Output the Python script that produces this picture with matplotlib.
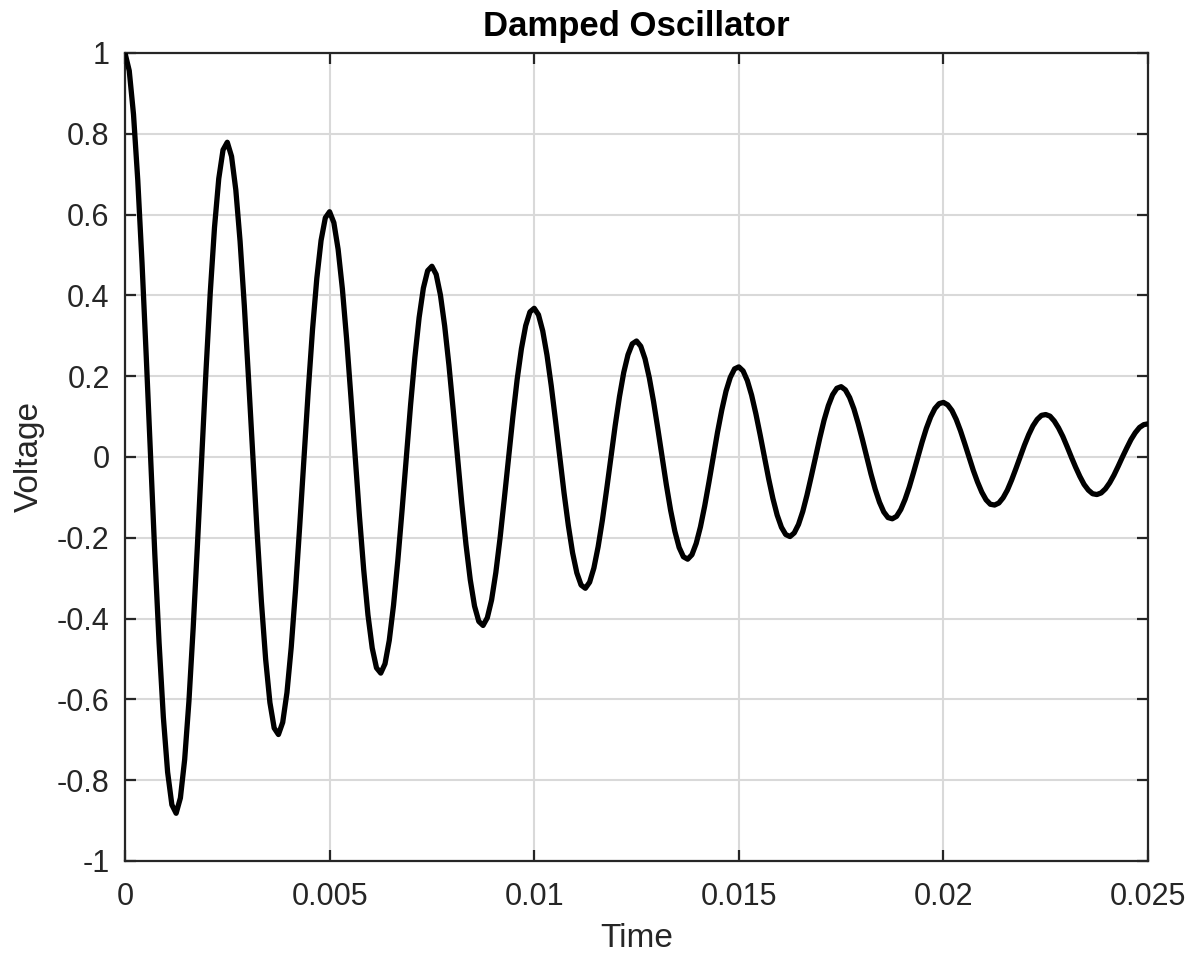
import numpy as np
import matplotlib
matplotlib.use("Agg")
import matplotlib.pyplot as plt
from matplotlib.ticker import FuncFormatter

t_start = 0.0
t_end = 0.025
voltage = [
    1.000, 0.956, 0.848, 0.685, 0.480, 0.246, 0.000, -0.241, -0.460, -0.644, -0.780, -0.861,
    -0.882, -0.844, -0.749, -0.605, -0.423, -0.217, 0.000, 0.212, 0.406, 0.568, 0.689, 0.760,
    0.779, 0.744, 0.661, 0.534, 0.374, 0.191, 0.000, -0.187, -0.358, -0.501, -0.608, -0.671,
    -0.687, -0.657, -0.583, -0.471, -0.330, -0.169, 0.000, 0.165, 0.316, 0.442, 0.536, 0.592,
    0.607, 0.580, 0.514, 0.416, 0.291, 0.149, 0.000, -0.146, -0.279, -0.391, -0.473, -0.522,
    -0.535, -0.512, -0.454, -0.367, -0.257, -0.132, 0.000, 0.129, 0.246, 0.345, 0.418, 0.461,
    0.472, 0.452, 0.401, 0.324, 0.227, 0.116, 0.000, -0.114, -0.217, -0.304, -0.369, -0.407,
    -0.417, -0.398, -0.354, -0.286, -0.200, -0.102, 0.000, 0.100, 0.192, 0.268, 0.325, 0.359,
    0.368, 0.352, 0.312, 0.252, 0.176, 0.090, 0.000, -0.089, -0.169, -0.237, -0.287, -0.317,
    -0.325, -0.310, -0.275, -0.222, -0.156, -0.080, 0.000, 0.078, 0.149, 0.209, 0.253, 0.280,
    0.287, 0.274, 0.243, 0.196, 0.137, 0.070, 0.000, -0.069, -0.132, -0.184, -0.224, -0.247,
    -0.253, -0.242, -0.214, -0.173, -0.121, -0.062, 0.000, 0.061, 0.116, 0.163, 0.197, 0.218,
    0.223, 0.213, 0.189, 0.153, 0.107, 0.055, 0.000, -0.054, -0.103, -0.144, -0.174, -0.192,
    -0.197, -0.188, -0.167, -0.135, -0.094, -0.048, 0.000, 0.047, 0.091, 0.127, 0.154, 0.170,
    0.174, 0.166, 0.147, 0.119, 0.083, 0.043, 0.000, -0.042, -0.080, -0.112, -0.136, -0.150,
    -0.153, -0.147, -0.130, -0.105, -0.074, -0.038, 0.000, 0.037, 0.071, 0.099, 0.120, 0.132,
    0.135, 0.129, 0.115, 0.093, 0.065, 0.033, 0.000, -0.033, -0.062, -0.087, -0.106, -0.117,
    -0.119, -0.114, -0.101, -0.082, -0.057, -0.029, 0.000, 0.029, 0.055, 0.077, 0.093, 0.103,
    0.105, 0.101, 0.089, 0.072, 0.051, 0.026, 0.000, -0.025, -0.048, -0.068, -0.082, -0.091,
    -0.093, -0.089, -0.079, -0.064, -0.045, -0.023, 0.000, 0.022, 0.043, 0.060, 0.073, 0.080,
    0.082,
]
time = np.linspace(t_start, t_end, len(voltage))

x_ticks = [0, 0.005, 0.01, 0.015, 0.02, 0.025]
y_ticks = [-1, -0.8, -0.6, -0.4, -0.2, 0, 0.2, 0.4, 0.6, 0.8, 1]

plt.rcParams['font.family'] = ['Liberation Sans', 'DejaVu Sans']
plt.rcParams['axes.unicode_minus'] = False

text_color = '#262626'

fig = plt.figure(figsize=(11.96, 9.56), dpi=100)
ax = fig.add_axes([0.1045, 0.0994, 0.8554, 0.8452])

ax.plot(time, voltage, color='black', linewidth=3.8, zorder=3,
        solid_joinstyle='round', solid_capstyle='round')

ax.set_xlim(0, 0.025)
ax.set_ylim(-1, 1)
ax.set_xticks(x_ticks)
ax.set_yticks(y_ticks)
ax.xaxis.set_major_formatter(FuncFormatter(lambda v, p: f"{v:g}"))
ax.yaxis.set_major_formatter(FuncFormatter(lambda v, p: f"{v:g}"))

ax.grid(True, color='#d9d9d9', linewidth=1.5, zorder=0)
ax.set_axisbelow(True)

for side in ax.spines.values():
    side.set_color(text_color)
    side.set_linewidth(1.6)

ax.tick_params(direction='in', length=8, width=1.6, color=text_color,
               top=True, right=True, labelsize=22, labelcolor=text_color)
ax.tick_params(axis='x', pad=15)
ax.tick_params(axis='y', pad=11)

ax.set_xlabel('Time', fontsize=24, color=text_color, labelpad=8)
ax.set_ylabel('Voltage', fontsize=24, color=text_color, labelpad=9)
ax.set_title('Damped Oscillator', fontsize=25, fontweight='bold', color='black', pad=12)

fig.savefig('out.png', dpi=100)
